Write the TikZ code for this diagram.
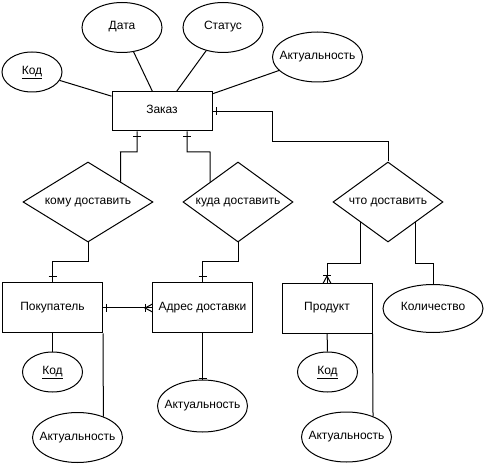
\documentclass[tikz,border=0pt]{standalone}
\usepackage{fontspec}
\setmainfont{Liberation Sans}
\usetikzlibrary{shapes.geometric,calc}
\tikzset{
  base/.style={draw=black, line width=1pt, inner sep=0pt, text height=8pt, text depth=3pt,
    font=\fontsize{12}{14}\selectfont},
  entity/.style={base, rectangle, minimum width=100pt, minimum height=50pt},
  attr/.style={base, ellipse, minimum width=90pt, minimum height=50pt},
  rel/.style={base, diamond, aspect=2, minimum width=110pt, minimum height=80pt},
  conn/.style={line width=1pt, draw=black},
}
\newcommand{\zt}[1]{\makebox[0pt]{#1}}
\begin{document}
\begin{tikzpicture}[x=1pt, y=-1pt]
\path[use as bounding box, fill=white] (0,0) rectangle (485,465);

% entities
\node[entity, minimum height=39pt] (zak) at (162,111.5) {\zt{Заказ}};
\node[entity] (pok) at (52.5,308) {\zt{Покупатель}};
\node[entity] (adr) at (202.5,308) {\zt{Адрес доставки}};
\node[entity, minimum width=90pt] (prod) at (327,308.5) {\zt{Продукт}};

% attributes
\node[attr, minimum width=60pt, minimum height=40pt] (kod1) at (32,72) {\zt{\underline{Код}}};
\node[attr, minimum width=80pt] (data) at (122,27.5) {\zt{Дата}};
\node[attr, minimum width=80pt] (stat) at (223,27.5) {\zt{Статус}};
\node[attr] (akt1) at (317.5,57) {\zt{Актуальность}};
\node[attr, minimum width=100pt, minimum height=48pt] (kol) at (433,308.5) {\zt{Количество}};
\node[attr, minimum width=60pt, minimum height=40pt] (kod2) at (52.5,372) {\zt{\underline{Код}}};
\node[attr] (akt2) at (77.5,437.5) {\zt{Актуальность}};
\node[attr, minimum height=52pt] (akt3) at (202.5,406) {\zt{Актуальность}};
\node[attr, minimum width=60pt, minimum height=40pt] (kod3) at (327.5,372) {\zt{\underline{Код}}};
\node[attr] (akt4) at (346.5,437) {\zt{Актуальность}};

% relationships
\node[rel, minimum width=130pt] (kom) at (88,202) {\zt{кому доставить}};
\node[rel] (kud) at (238,202) {\zt{куда доставить}};
\node[rel] (cho) at (388,202) {\zt{что доставить}};

% attribute lines
\draw[conn] (zak) -- (kod1);
\draw[conn] (zak) -- (data);
\draw[conn] (zak) -- (stat);
\draw[conn] (zak) -- (akt1);
\draw[conn] (pok) -- (kod2);
\draw[conn] (pok.south east) -- (akt2.39.8);
\draw[conn] (prod) -- (kod3);
\draw[conn] (prod.south east) -- (akt4.38.9);
\draw[conn] (adr) -- (akt3);
\draw[conn] (198.5,378) -- (206.5,378);

% relationship lines
\draw[conn] (zak.east) -- (272,111.5) |- (cho.north |- 0,142) -- (cho.north);
\draw[conn] (216,107.5) -- (216,115.5);

\draw[conn] ($(zak.south)+(-25,0)$) |- (120.5,152) -- (kom.north east);
\draw[conn] (133,136.5) -- (141,136.5);
\draw[conn] ($(zak.south)+(25,0)$) |- (210,152) -- (kud.north west);
\draw[conn] (183,136.5) -- (191,136.5);

\draw[conn] (kom.south) |- (52.5,262) -- (pok.north);
\draw[conn] (48.5,277) -- (56.5,277);
\draw[conn] (kud.south) |- (202.5,262) -- (adr.north);
\draw[conn] (198.5,277) -- (206.5,277);

\draw[conn] (cho.south west) |- (327,264) -- (prod.north);
\draw[conn] (323,276) -- (331,276);
\draw[conn] (323,283.5) -- (327,276) -- (331,283.5);
\draw[conn] (cho.south east) |- (433,264) -- (kol.north);

\draw[conn] (pok.east) -- (adr.west);
\draw[conn] (106,304) -- (106,312);
\draw[conn] (145,304) -- (145,312);
\draw[conn] (152.5,304) -- (145,308) -- (152.5,312);
\end{tikzpicture}
\end{document}
